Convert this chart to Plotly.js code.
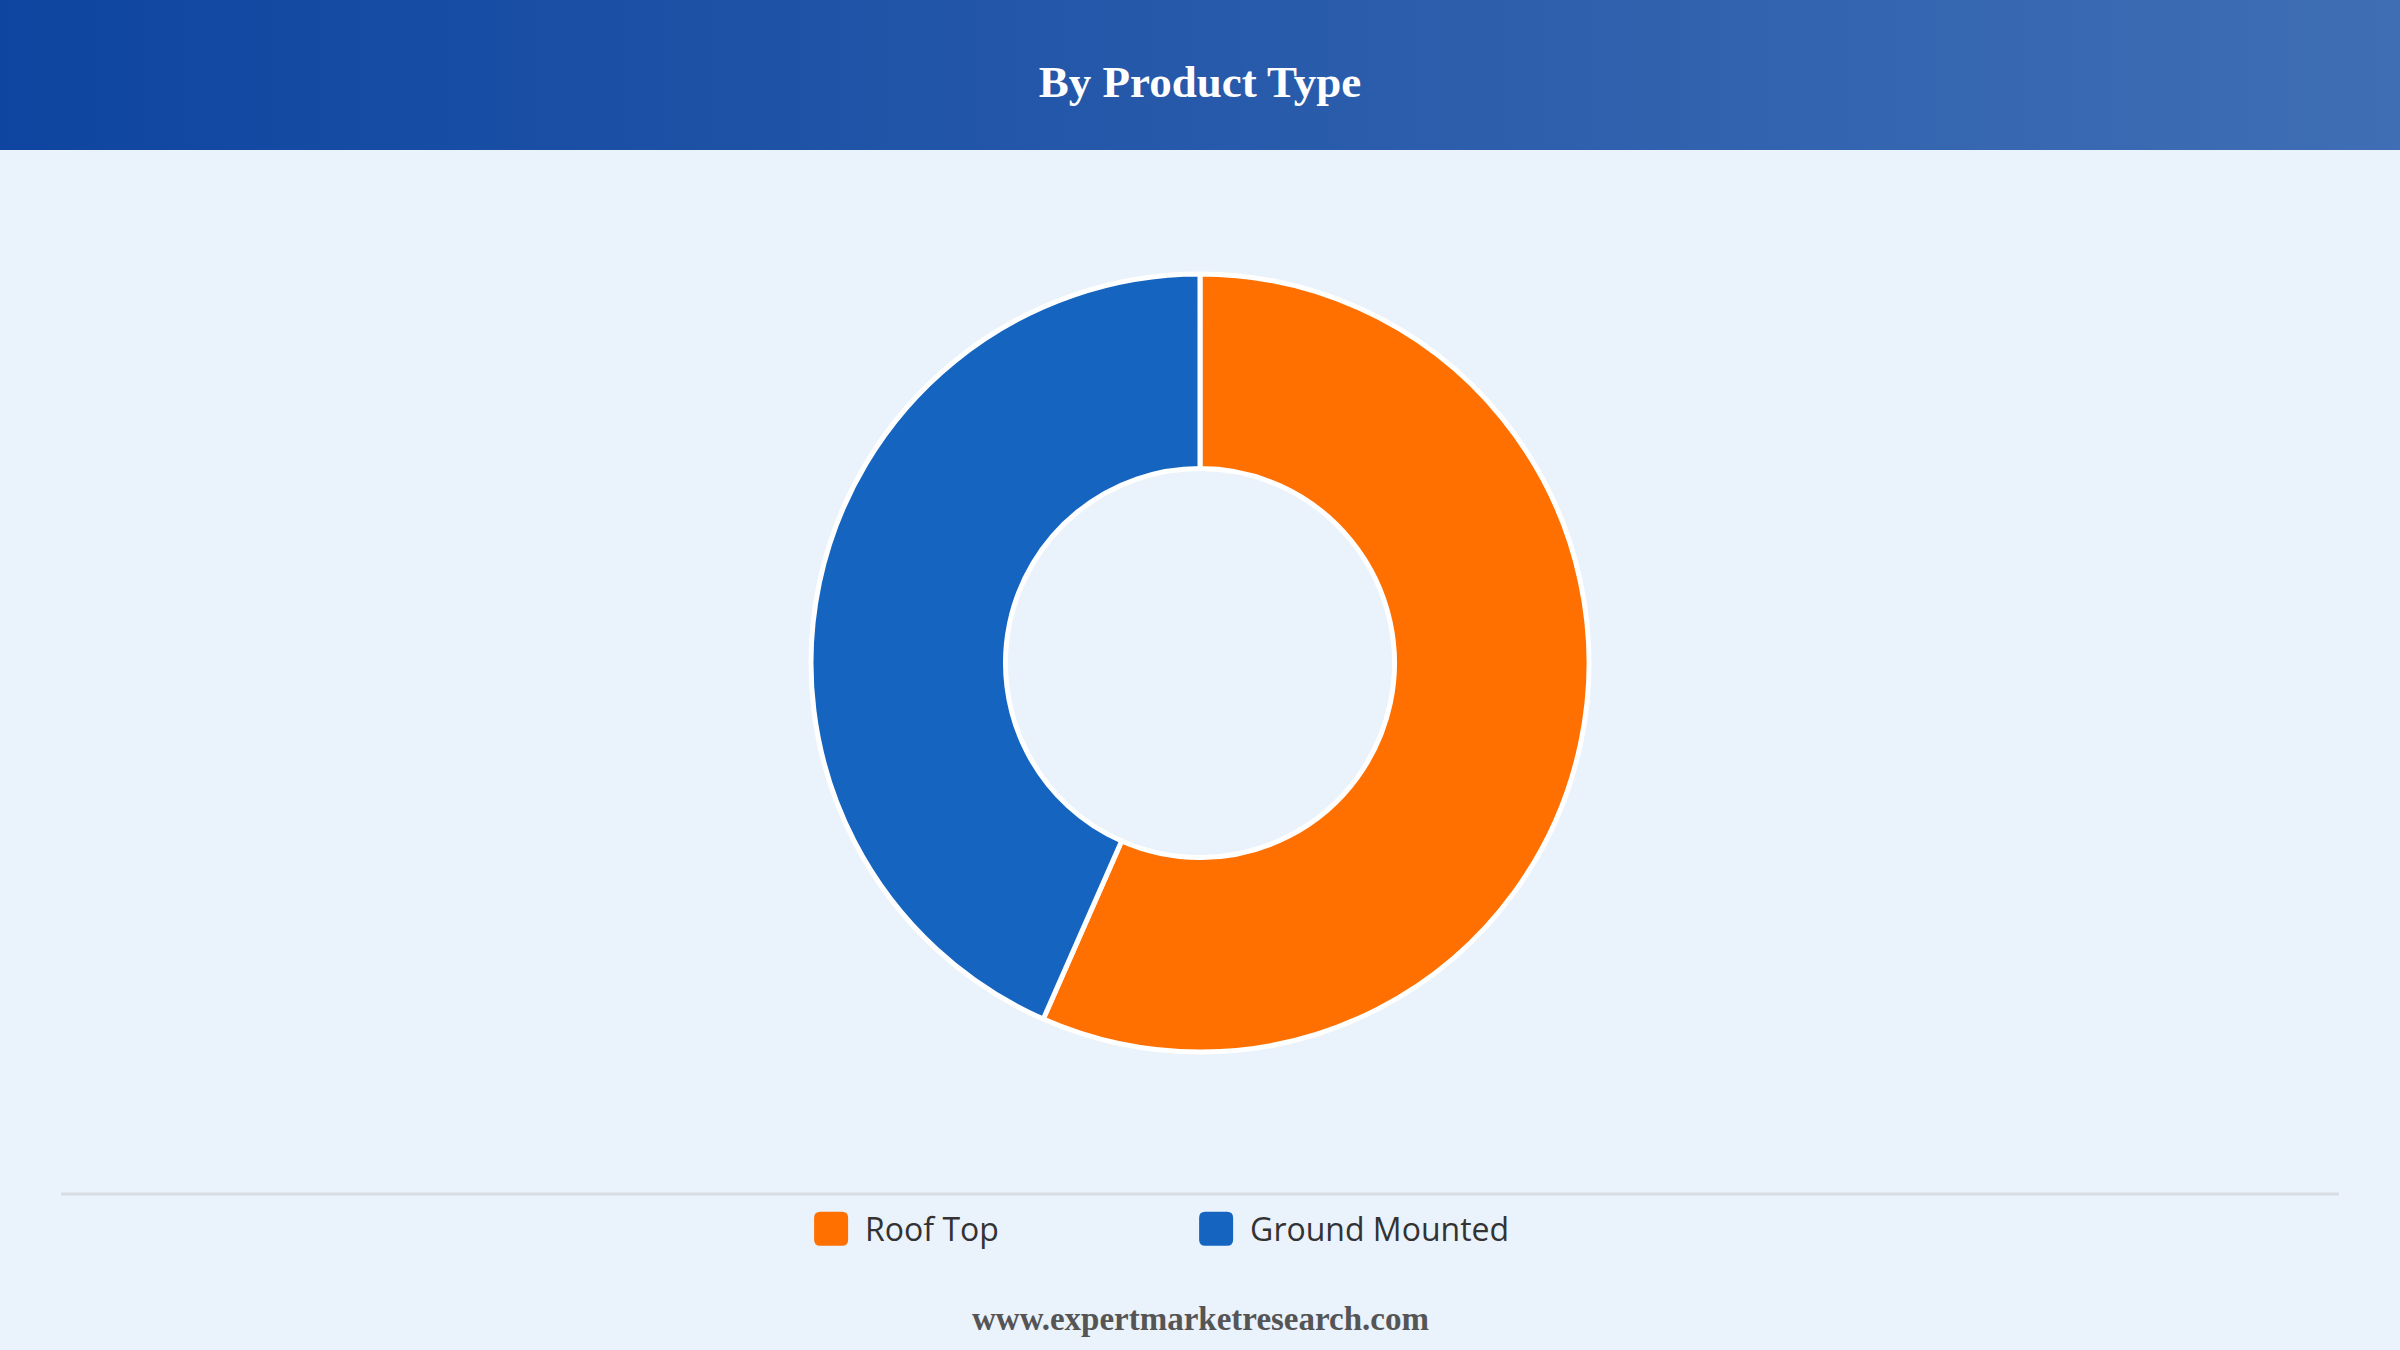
<!DOCTYPE html>
<html>
<head>
<meta charset="utf-8">
<script src="https://cdn.plot.ly/plotly-3.0.1.min.js"></script>
<style>
  html, body { margin: 0; padding: 0; background: #EAF2FC; }
  #chart { width: 2400px; height: 1350px; }
</style>
</head>
<body>
<div id="chart"></div>
<script>
// segment shares (percent)
let segments = ['Roof Top', 'Ground Mounted'];
let shares = [56.6, 43.4];
let segColors = ['#FF7000', '#1565C0'];

let chartTitle = 'By Product Type';
let footerText = 'www.expertmarketresearch.com';

const W = 2400, H = 1350;
const headerH = 150; // px height of the blue band

// header band, done as a filled scatter so it can carry a gradient
let band = {
  x: [0, 1, 1, 0, 0],
  y: [1 - headerH / H, 1 - headerH / H, 1, 1, 1 - headerH / H],
  type: 'scatter',
  mode: 'lines',
  fill: 'toself',
  line: {width: 0},
  fillgradient: {
    type: 'horizontal',
    colorscale: [[0, '#0E45A0'], [1, '#3F6EB4']]
  },
  hoverinfo: 'skip',
  showlegend: false
};

let donut = {
  type: 'pie',
  labels: segments,
  values: shares,
  hole: 0.5,
  sort: false,
  direction: 'clockwise',
  rotation: 0,
  textinfo: 'none',
  marker: {colors: segColors, line: {color: '#ffffff', width: 5}},
  domain: {x: [0.3, 0.7], y: [0.2207, 0.797]}
};

let layout = {
  width: W,
  height: H,
  margin: {l: 0, r: 0, t: 0, b: 0},
  paper_bgcolor: '#EAF2FC',
  plot_bgcolor: 'rgba(0,0,0,0)',
  xaxis: {range: [0, 1], visible: false, fixedrange: true},
  yaxis: {range: [0, 1], visible: false, fixedrange: true},
  title: {
    text: chartTitle,
    x: 0.5, xanchor: 'center',
    y: 1 - 81 / H, yanchor: 'middle',
    font: {family: 'Liberation Serif, serif', size: 45, color: '#ffffff', weight: 'bold'}
  },
  showlegend: true,
  legend: {
    orientation: 'h',
    x: 0.3388, xanchor: 'left',
    y: 1 - 1229 / H, yanchor: 'middle',
    itemwidth: 42,
    entrywidth: 328,
    entrywidthmode: 'pixels',
    bgcolor: 'rgba(0,0,0,0)',
    font: {family: 'Open Sans, sans-serif', size: 32, color: '#333333'}
  },
  shapes: [{
    type: 'line', xref: 'paper', yref: 'paper',
    x0: 61 / W, x1: 2339 / W, y0: 1 - 1194 / H, y1: 1 - 1194 / H,
    line: {color: '#D9DDE3', width: 3}
  }],
  annotations: [{
    text: footerText,
    xref: 'paper', yref: 'paper',
    x: 0.5, y: 1 - 1319 / H, xanchor: 'center', yanchor: 'middle',
    showarrow: false,
    font: {family: 'Liberation Serif, serif', size: 33, color: '#555555', weight: 'bold'}
  }]
};

Plotly.newPlot('chart', [band, donut], layout, {displayModeBar: false, staticPlot: true})
  .then(function (gd) {
    // pie legend keys are fixed 12px squares; make them the larger rounded keys
    let r = 6, s = 17;
    let d = 'M' + (-s + r) + ',' + (-s) + 'H' + (s - r) + 'Q' + s + ',' + (-s) + ' ' + s + ',' + (-s + r) +
            'V' + (s - r) + 'Q' + s + ',' + s + ' ' + (s - r) + ',' + s +
            'H' + (-s + r) + 'Q' + (-s) + ',' + s + ' ' + (-s) + ',' + (s - r) +
            'V' + (-s + r) + 'Q' + (-s) + ',' + (-s) + ' ' + (-s + r) + ',' + (-s) + 'Z';
    gd.querySelectorAll('path.legendpie').forEach(function (p) {
      p.setAttribute('d', d);
      p.setAttribute('transform', 'translate(18,0)');
      p.style.strokeWidth = '0px';
    });
  });
</script>
</body>
</html>
